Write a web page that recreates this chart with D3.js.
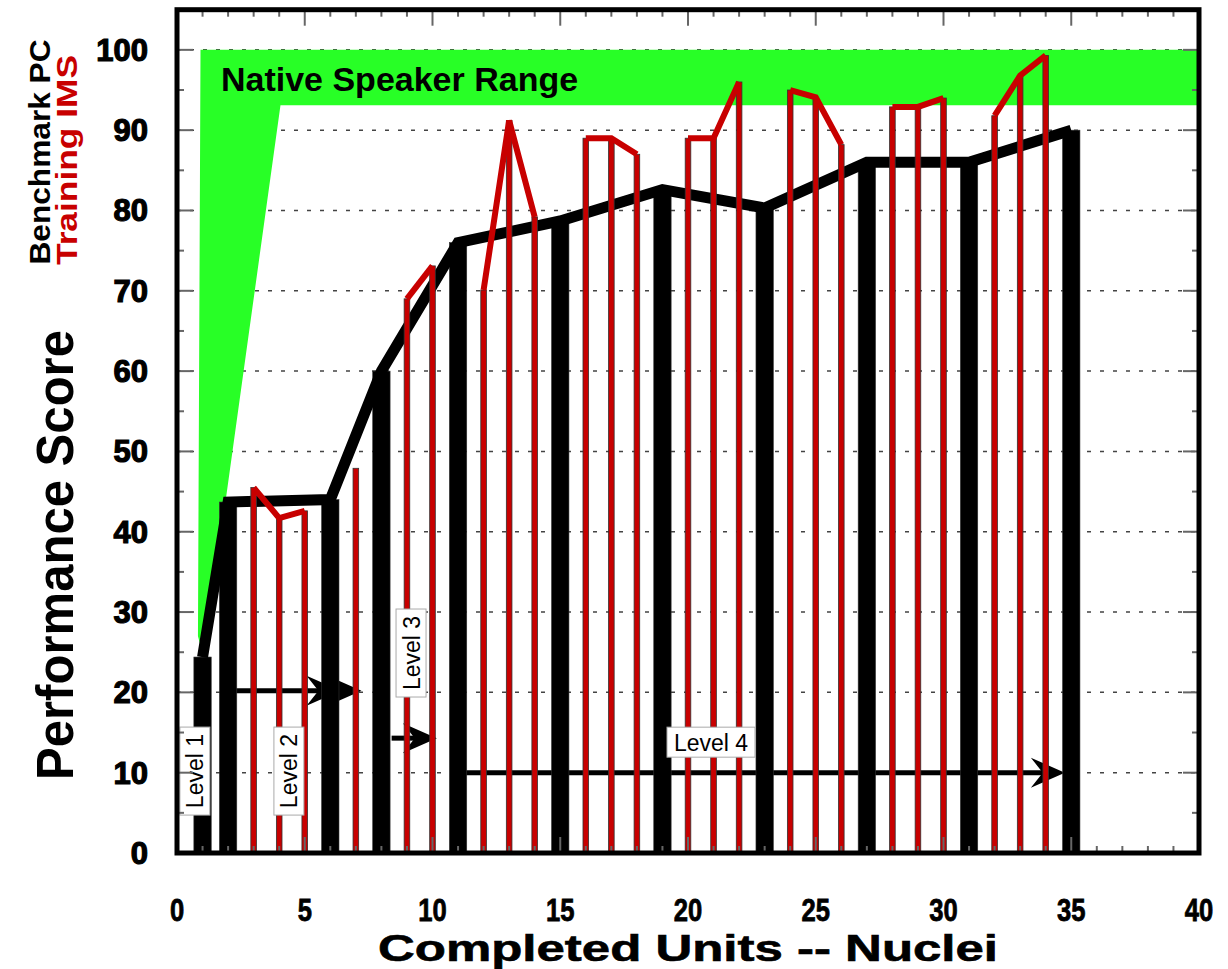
<!DOCTYPE html>
<html>
<head>
<meta charset="utf-8">
<script src="https://cdn.jsdelivr.net/npm/d3@7"></script>
<style>
  html, body { margin: 0; padding: 0; background: #fff; }
  svg { display: block; }
  text { font-family: "Liberation Sans", Arial, sans-serif; }
</style>
</head>
<body>
<svg id="chart" width="1228" height="969"></svg>
<script>
// ---------------- DATA ----------------
const benchUnits  = [1, 2, 6, 8, 11, 15, 19, 23, 27, 31, 35];
const benchScores = [24.4, 43.7, 44.0, 60.0, 76.0, 78.7, 82.6, 80.3, 86.0, 86.0, 90.0];

const imsUnits  = [3, 4, 5, 7, 9, 10, 12, 13, 14, 16, 17, 18, 20, 21, 22, 24, 25, 26, 28, 29, 30, 32, 33, 34];
const imsScores = [45.5, 41.7, 42.6, 47.9, 69.0, 73.1, 70.1, 91.2, 79.2, 89.0, 89.0, 87.0, 89.0, 89.0, 96.0, 95.0, 94.1, 88.2, 92.9, 92.9, 94.0, 91.8, 96.8, 99.3];
const imsBlocks = [1, 1, 1, 2, 3, 3, 4, 4, 4, 5, 5, 5, 6, 6, 6, 7, 7, 7, 8, 8, 8, 9, 9, 9];

const nativeX = [0.92, 40, 40, 4.05, 1.05, 0.82];
const nativeY = [100, 100, 93.1, 93.1, 24.3, 27];
const nativeLabel = "Native Speaker Range";

const levelNames = ["Level 1", "Level 2", "Level 3", "Level 4"];
const levelX     = [0.7, 4.38, 9.16, 20.9];
const levelY     = [10.2, 10.2, 24.9, 13.8];
const levelVertical = [true, true, true, false];

const arrowX1 = [2.3, 6.3, 8.4, 11.27];
const arrowX2 = [6.4, 7.22, 10.17, 34.75];
const arrowY  = [20.2, 20.2, 14.3, 10.0];

const xTicks = [0, 5, 10, 15, 20, 25, 30, 35, 40];
const yTicks = [0, 10, 20, 30, 40, 50, 60, 70, 80, 90, 100];

const xTitle = "Completed Units -- Nuclei";
const yTitle = "Performance Score";
const legendBench = "Benchmark PC";
const legendIms = "Training IMS";

// ---------------- SETUP ----------------
const svg = d3.select("#chart");
const x = d3.scaleLinear().domain([0, 40]).range([177, 1199]);
const y = d3.scaleLinear().domain([0, 105]).range([853, 9.7]);
const RED = "#c80000";
const GREEN = "#28ff26";

// grid
svg.append("g").selectAll("line").data(yTicks.filter(d => d > 0)).join("line")
  .attr("x1", x(0)).attr("x2", x(40))
  .attr("y1", d => y(d)).attr("y2", d => y(d))
  .attr("stroke", "#444").attr("stroke-width", 1.5)
  .attr("stroke-dasharray", "4,9");

// native speaker range
svg.append("path")
  .datum(nativeX.map((v, i) => [v, nativeY[i]]))
  .attr("d", d3.line().x(d => x(d[0])).y(d => y(d[1])).curve(d3.curveLinearClosed))
  .attr("fill", GREEN);

svg.append("text").attr("x", x(1.72)).attr("y", y(94.85))
  .attr("font-size", 34).attr("font-weight", "bold").attr("fill", "#000")
  .text(nativeLabel);

// arrows
const HL = 34, HW = 15;
const ag = svg.append("g");
arrowX1.forEach((x1, i) => {
  const tx = x(arrowX2[i]), ty = y(arrowY[i]);
  ag.append("line").attr("x1", x(x1)).attr("x2", tx - HL * 0.6)
    .attr("y1", ty).attr("y2", ty)
    .attr("stroke", "#000").attr("stroke-width", 5);
  ag.append("path")
    .attr("d", `M${tx},${ty} L${tx - HL},${ty - HW} L${tx - HL * 0.65},${ty} L${tx - HL},${ty + HW} Z`)
    .attr("fill", "#000");
});

// benchmark bars
const bw = x(0.68) - x(0);
svg.append("g").selectAll("rect").data(benchUnits).join("rect")
  .attr("x", d => x(d) - bw / 2).attr("width", bw)
  .attr("y", (d, i) => y(benchScores[i]))
  .attr("height", (d, i) => y(0) - y(benchScores[i]))
  .attr("fill", "#000").attr("stroke", "#333").attr("stroke-width", 0.6);

// benchmark line
svg.append("path")
  .datum(benchUnits.map((u, i) => [u, benchScores[i]]))
  .attr("d", d3.line().x(d => x(d[0])).y(d => y(d[1])))
  .attr("fill", "none").attr("stroke", "#000").attr("stroke-width", 11)
  .attr("stroke-linejoin", "miter");

// IMS bars
const rw = x(0.22) - x(0);
svg.append("g").selectAll("rect").data(imsUnits).join("rect")
  .attr("x", d => x(d) - rw / 2).attr("width", rw)
  .attr("y", (d, i) => y(imsScores[i]))
  .attr("height", (d, i) => y(0) - y(imsScores[i]))
  .attr("fill", RED).attr("stroke", "#333").attr("stroke-width", 0.8);

// IMS lines per block
const blocks = d3.groups(imsUnits.map((u, i) => ({u, s: imsScores[i], b: imsBlocks[i]})), d => d.b);
svg.append("g").selectAll("path").data(blocks.filter(g => g[1].length > 1)).join("path")
  .attr("d", g => d3.line().x(d => x(d.u)).y(d => y(d.s))(g[1]))
  .attr("fill", "none").attr("stroke", RED).attr("stroke-width", 6)
  .attr("stroke-linejoin", "miter");

// level labels
const lg = svg.append("g");
levelNames.forEach((name, i) => {
  const cx = x(levelX[i]), cy = y(levelY[i]);
  const g = lg.append("g").attr("transform", `translate(${cx},${cy})` + (levelVertical[i] ? " rotate(-90)" : ""));
  g.append("rect").attr("x", -44).attr("y", -15).attr("width", 88).attr("height", 30)
    .attr("fill", "#fff").attr("stroke", "#aaa").attr("stroke-width", 1);
  g.append("text").attr("x", 0).attr("y", 8.5).attr("text-anchor", "middle")
    .attr("font-size", 23).attr("fill", "#000").text(name);
});

// frame ticks
const tg = svg.append("g").attr("stroke", "#666").attr("stroke-width", 2);
d3.range(0, 41).forEach(v => {
  const L = v % 5 === 0 ? 16 : 7;
  tg.append("line").attr("x1", x(v)).attr("x2", x(v)).attr("y1", y(105)).attr("y2", y(105) + L);
  tg.append("line").attr("x1", x(v)).attr("x2", x(v)).attr("y1", y(0)).attr("y2", y(0) - L);
});
d3.range(0, 106, 5).forEach(v => {
  const L = v % 10 === 0 ? 16 : 7;
  tg.append("line").attr("y1", y(v)).attr("y2", y(v)).attr("x1", x(0)).attr("x2", x(0) + L);
  tg.append("line").attr("y1", y(v)).attr("y2", y(v)).attr("x1", x(40)).attr("x2", x(40) - L);
});

// frame
svg.append("rect").attr("x", x(0)).attr("y", y(105))
  .attr("width", x(40) - x(0)).attr("height", y(0) - y(105))
  .attr("fill", "none").attr("stroke", "#000").attr("stroke-width", 5);

// y tick labels
svg.append("g").selectAll("text").data(yTicks).join("text")
  .attr("x", 148).attr("y", d => y(d) + 11)
  .attr("text-anchor", "end").attr("font-size", 31).attr("font-weight", "bold")
  .attr("stroke", "#000").attr("stroke-width", 1.2)
  .text(d => d);

// x tick labels
svg.append("g").selectAll("text").data(xTicks).join("text")
  .attr("transform", d => `translate(${x(d)},921) scale(0.8,1)`)
  .attr("text-anchor", "middle").attr("font-size", 32).attr("font-weight", "bold")
  .attr("stroke", "#000").attr("stroke-width", 0.8)
  .text(d => d);

// x title
svg.append("text").attr("x", (x(0) + x(40)) / 2).attr("y", 961)
  .attr("text-anchor", "middle").attr("font-size", 36).attr("font-weight", "bold")
  .attr("textLength", 620).attr("lengthAdjust", "spacingAndGlyphs")
  .attr("stroke", "#000").attr("stroke-width", 0.6)
  .text(xTitle);

// y title
svg.append("text").attr("transform", "translate(73,555) rotate(-90)")
  .attr("text-anchor", "middle").attr("font-size", 52).attr("font-weight", "bold")
  .attr("textLength", 450).attr("lengthAdjust", "spacingAndGlyphs")
  .text(yTitle);

svg.append("text").attr("transform", "translate(50,152) rotate(-90)")
  .attr("text-anchor", "middle").attr("font-size", 29).attr("font-weight", "bold")
  .attr("textLength", 225).attr("lengthAdjust", "spacingAndGlyphs")
  .attr("fill", "#000").text(legendBench);

svg.append("text").attr("transform", "translate(77,160) rotate(-90)")
  .attr("text-anchor", "middle").attr("font-size", 29).attr("font-weight", "bold")
  .attr("textLength", 210).attr("lengthAdjust", "spacingAndGlyphs")
  .attr("fill", RED).text(legendIms);
</script>
</body>
</html>
